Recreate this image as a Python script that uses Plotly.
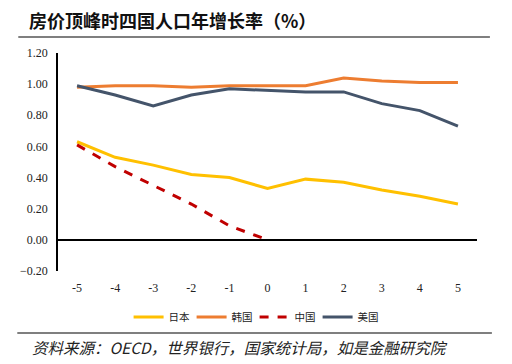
import plotly.graph_objects as go

years = ["-5", "-4", "-3", "-2", "-1", "0", "1", "2", "3", "4", "5"]
japan = [0.63, 0.53, 0.48, 0.42, 0.40, 0.33, 0.39, 0.37, 0.32, 0.28, 0.23]
korea = [0.98, 0.99, 0.99, 0.98, 0.99, 0.99, 0.99, 1.04, 1.02, 1.01, 1.01]
china = [0.61, 0.47, 0.35, 0.23, 0.09, 0.00, None, None, None, None, None]
usa = [0.99, 0.93, 0.86, 0.93, 0.97, 0.96, 0.95, 0.95, 0.875, 0.83, 0.73]
yticks = [-0.2, 0.0, 0.2, 0.4, 0.6, 0.8, 1.0, 1.2]

fig = go.Figure()
fig.add_trace(go.Scatter(x=years, y=japan, name="日本", mode="lines",
                         line=dict(color="#FFC000", width=3)))
fig.add_trace(go.Scatter(x=years, y=korea, name="韩国", mode="lines",
                         line=dict(color="#ED7D31", width=3)))
fig.add_trace(go.Scatter(x=years, y=china, name="中国", mode="lines",
                         line=dict(color="#C00000", width=3, dash="dash")))
fig.add_trace(go.Scatter(x=years, y=usa, name="美国", mode="lines",
                         line=dict(color="#44546A", width=3)))

# page body has an 8px margin; work in screen coordinates and shift
OFF = 8
W, H = 512 - OFF, 364 - OFF
L, R, T, B = 55, 477, 53, 271
pw, ph = R - L, B - T

def px(x):
    return (x - L) / pw

def py(y):
    return (B - y) / ph

fig.update_layout(
    width=W, height=H,
    margin=dict(l=L - OFF, r=512 - R, t=T - OFF, b=364 - B),
    paper_bgcolor="white", plot_bgcolor="white",
    showlegend=True,
    legend=dict(orientation="h", x=px(253), xanchor="center", y=py(317), yanchor="middle",
                font=dict(family="Noto Sans CJK SC", size=10.5, color="#222"),
                itemwidth=30, tracegroupgap=0,
                entrywidth=18, entrywidthmode="pixels"),
    xaxis=dict(type="category", range=[-0.5, 10.5], showgrid=False, showline=False,
               zeroline=False, ticks="",
               tickfont=dict(family="Liberation Serif", size=12, color="#222"),
               ticklabelstandoff=8),
    yaxis=dict(range=[-0.2, 1.2], tickvals=yticks, tickformat=".2f",
               showgrid=False, showline=True, linecolor="black", linewidth=1.5,
               zeroline=True, zerolinecolor="black", zerolinewidth=1.5,
               ticks="", tickfont=dict(family="Liberation Serif", size=12, color="#222"),
               ticklabelstandoff=6),
    shapes=[
        dict(type="line", xref="paper", yref="paper", x0=px(15), x1=px(490),
             y0=py(37), y1=py(37), line=dict(color="black", width=1.2)),
        dict(type="line", xref="paper", yref="paper", x0=px(14), x1=px(492),
             y0=py(333), y1=py(333), line=dict(color="black", width=1.2)),
    ],
    annotations=[
        dict(text="<b>房价顶峰时四国人口年增长率（%）</b>", xref="paper", yref="paper",
             x=px(24), y=py(20), xanchor="left", yanchor="middle", showarrow=False,
             font=dict(family="Noto Sans CJK SC", size=18, color="#111")),
        dict(text="<i>资料来源：OECD，世界银行，国家统计局，如是金融研究院</i>",
             xref="paper", yref="paper", x=px(27), y=py(347), xanchor="left",
             yanchor="middle", showarrow=False,
             font=dict(family="Noto Sans CJK SC", size=15.5, color="#222")),
    ],
)

fig.write_html("out.html")
